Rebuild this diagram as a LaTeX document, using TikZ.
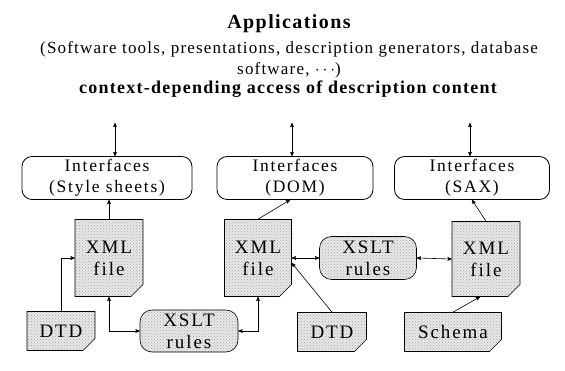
\documentclass[tikz,border=0pt]{standalone}
\usepackage{fontspec}
\setmainfont{Liberation Serif}
\newfontfamily\boxfont[LetterSpace=10]{Liberation Serif}
\newfontfamily\headfont[LetterSpace=7]{Liberation Serif}
\usetikzlibrary{arrows,shapes.misc,patterns}

\begin{document}
\begin{tikzpicture}[x=1pt,y=-1pt,>=stealth',semithick]
  \tikzstyle{iface}=[draw,thick,rounded corners=10pt,minimum height=43pt,inner sep=0pt,align=center,
                     font=\boxfont\fontsize{17.5}{21}\selectfont]
  \tikzstyle{stipple}=[preaction={fill=gray!18},pattern=crosshatch dots,pattern color=gray!70]
  \tikzstyle{docfile}=[draw,stipple,chamfered rectangle,chamfered rectangle corners=south east,
                       chamfered rectangle xsep=6pt,chamfered rectangle ysep=6pt,inner sep=0pt,align=center,
                       font=\boxfont\fontsize{19}{22}\selectfont,
                       path picture={\draw ([xshift=-6pt]path picture bounding box.south east) -- ++(1.5pt,4.5pt)
                                           -- ([yshift=6pt]path picture bounding box.south east);}]
  \tikzstyle{rules}=[draw,stipple,rounded corners=12pt,inner sep=0pt,align=center,
                     font=\boxfont\fontsize{19}{22}\selectfont]

  \useasboundingbox (0,0) rectangle (565,371);

  % applications
  \node[font=\headfont\fontsize{20}{22}\selectfont\bfseries] (app) at (289,24) {Applications};
  \node[align=center,inner sep=1pt,font=\headfont\fontsize{17}{21}\selectfont] (tools) at (289,60)
       {(Software tools, presentations, description generators, database\\ software, $\cdots$)};
  \node[inner sep=1pt,font=\headfont\fontsize{18}{20}\selectfont\bfseries] (ctx) at (288,89) {context-depending access of description content};

  % interfaces
  \node[iface,minimum width=170pt] (ifs) at (107,178) {Interfaces\\(Style sheets)};
  \node[iface,minimum width=156pt] (ifd) at (295,178) {Interfaces\\(DOM)};
  \node[iface,minimum width=155pt] (ifx) at (472,178) {Interfaces\\(SAX)};

  \coordinate (ts) at (115,123);
  \coordinate (td) at (292,123);
  \coordinate (tx) at (470,123);

  % files and rules
  \node[docfile,minimum width=68pt,minimum height=77pt] (xmla) at (109,258) {XML\\file};
  \node[docfile,minimum width=68pt,minimum height=39pt] (dtda) at (61,331) {DTD};
  \node[rules,minimum width=98pt,minimum height=42pt] (xslta) at (189,331) {XSLT\\rules};
  \node[docfile,minimum width=67pt,minimum height=77pt] (xmlb) at (258,258) {XML\\file};
  \node[rules,minimum width=97pt,minimum height=43pt] (xsltb) at (368,258) {XSLT\\rules};
  \node[docfile,minimum width=68pt,minimum height=75pt] (xmlc) at (486,259) {XML\\file};
  \node[docfile,minimum width=69pt,minimum height=39pt] (dtdb) at (332,332) {DTD};
  \node[docfile,minimum width=97pt,minimum height=39pt] (schema) at (453,332) {Schema};

  % connectors
  \draw[<->] (ts) -- (ts |- ifs.north);
  \draw[<->] (td) -- (td |- ifd.north);
  \draw[<->] (tx) -- (tx |- ifx.north);

  \draw[->] (xmla.north) -- (xmla.north |- ifs.south);
  \draw[->] (dtda.north) |- (xmla.west);
  \draw[<->] (xmla.south) |- (xslta.west);
  \draw[<->] (xslta.east) -| (xmlb.south);
  \draw[->] (xmlb.north) -- ([xshift=-5pt]ifd.south);
  \draw[<->] (xmlb.east) -- (xsltb.west);
  \draw[<->] (xsltb.east) -- (xmlc.west);
  \draw[->] (xmlc.north) -- (ifx.south);
  \draw[->] (dtdb.north) -- ([yshift=-5pt]xmlb.east);
  \draw[->] (schema.north) -- ([xshift=-6pt]xmlc.south);
\end{tikzpicture}
\end{document}
